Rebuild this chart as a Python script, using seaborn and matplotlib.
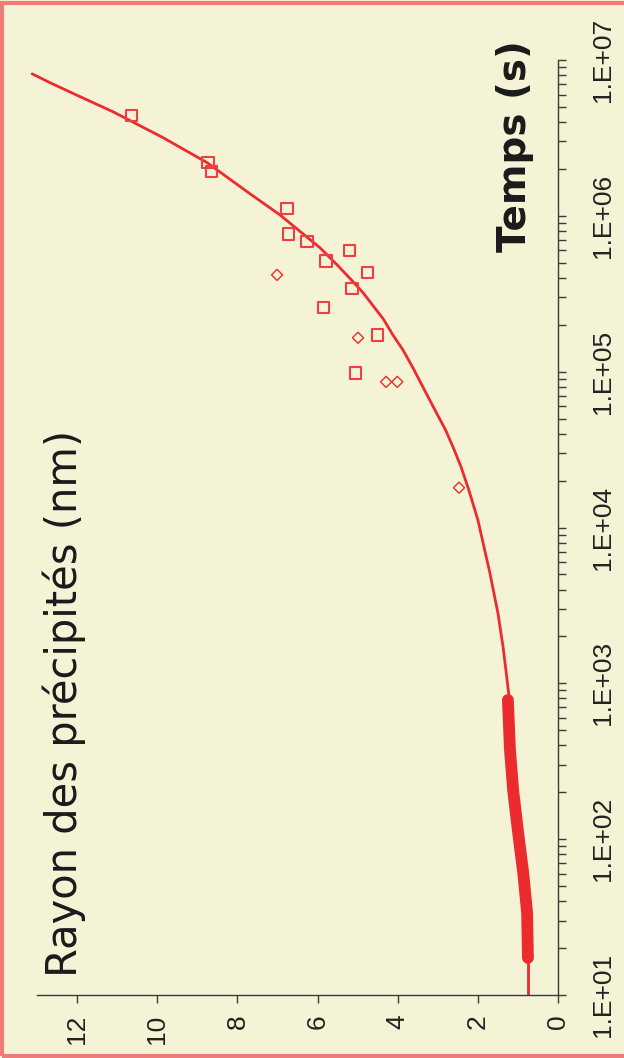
import numpy as np
import pandas as pd
import matplotlib
matplotlib.use("Agg")
import matplotlib.pyplot as plt
import seaborn as sns
from matplotlib.ticker import LogLocator, FuncFormatter, FixedLocator, NullFormatter
from matplotlib.patches import Rectangle

# ---------------- data ----------------
# model curve (radius nm, time s)
curve_radius = [13.12, 12.67, 11.92, 11.10, 9.85, 8.75, 7.76, 6.93, 5.94, 5.51, 5.11,
                4.86, 4.61, 4.36, 4.12, 3.87, 3.62, 3.32, 3.02, 2.81, 2.62, 2.42, 2.24,
                2.00, 1.70, 1.50, 1.37, 1.27, 1.22]
curve_time = [8.15e6, 7.14e6, 5.81e6, 4.65e6, 3.17e6, 2.19e6, 1.43e6, 1.01e6, 6.24e5,
              4.84e5, 3.77e5, 3.20e5, 2.64e5, 2.18e5, 1.72e5, 1.38e5, 1.06e5, 7.53e4,
              5.36e4, 4.25e4, 3.29e4, 2.45e4, 1.79e4, 1.12e4, 5.12e3, 2.83e3, 1.71e3,
              1.05e3, 8.2e2]
# dense early-time simulation points (thick part)
dense_radius = [1.25, 1.20, 1.12, 1.00, 0.87, 0.77, 0.75]
dense_time = [782, 379, 207, 113, 61.5, 33.6, 17.3]
# initial segment
start_radius = [0.75, 0.75]
start_time = [17.3, 10]

# experimental points: squares
sq_radius = [10.65, 8.73, 8.65, 6.76, 6.73, 6.26, 5.79, 5.21, 4.76, 5.14, 5.86, 4.51, 5.06]
sq_time = [4.39e6, 2.19e6, 1.92e6, 1.11e6, 7.66e5, 6.81e5, 5.14e5, 5.96e5, 4.31e5,
           3.40e5, 2.57e5, 1.72e5, 9.8e4]
# experimental points: diamonds
di_radius = [7.01, 4.99, 4.29, 4.01, 2.47]
di_time = [4.18e5, 1.65e5, 8.6e4, 8.6e4, 1.80e4]

radius_ticks = [0, 2, 4, 6, 8, 10, 12]
time_decades = [1e1, 1e2, 1e3, 1e4, 1e5, 1e6, 1e7]

ylabel_text = "Rayon des précipités (nm)"
xlabel_text = "Temps (s)"

# ---------------- style ----------------
BG = "#F5F3D6"
RED = "#EC2B2F"
BORDER = "#EF7C79"
AXC = "#3a3a3a"

sns.set_theme(style="white")
plt.rcParams["font.family"] = ["Liberation Sans", "DejaVu Sans"]

fig = plt.figure(figsize=(6.24, 10.58), dpi=100)
fig.patch.set_facecolor(BG)
W, H = 624, 1058
ax = fig.add_axes([37 / W, 63 / H, 521 / W, 935 / H])
ax.set_facecolor(BG)

df_curve = pd.DataFrame({"r": curve_radius, "t": curve_time})
df_dense = pd.DataFrame({"r": dense_radius, "t": dense_time})
df_start = pd.DataFrame({"r": start_radius, "t": start_time})
df_sq = pd.DataFrame({"r": sq_radius, "t": sq_time})
df_di = pd.DataFrame({"r": di_radius, "t": di_time})

ax.set_yscale("log")

sns.lineplot(data=df_curve, x="r", y="t", sort=False, estimator=None, color=RED,
             lw=2.0, ax=ax, clip_on=False)
sns.lineplot(data=df_dense, x="r", y="t", sort=False, estimator=None, color=RED,
             lw=8.5, ax=ax, solid_capstyle="round")
sns.lineplot(data=df_start, x="r", y="t", sort=False, estimator=None, color=RED,
             lw=2.0, ax=ax)
sns.scatterplot(data=df_sq, x="r", y="t", marker="s", s=66, facecolor="none",
                edgecolor="#EE4044", linewidth=1.5, ax=ax, zorder=4)
sns.scatterplot(data=df_di, x="r", y="t", marker="D", s=32, facecolor="none",
                edgecolor=RED, linewidth=1.0, ax=ax, zorder=4)

ax.set_xlim(13.0, 0)
ax.set_ylim(10, 1e7)
ax.set_xlabel("")
ax.set_ylabel("")

for side in ["left", "top"]:
    ax.spines[side].set_visible(False)
for side in ["right", "bottom"]:
    ax.spines[side].set_visible(True)
    ax.spines[side].set_color(AXC)
    ax.spines[side].set_linewidth(1.0)

ax.xaxis.set_major_locator(FixedLocator(radius_ticks))
ax.yaxis.set_major_locator(FixedLocator(time_decades))
ax.yaxis.set_minor_locator(LogLocator(base=10, subs=np.arange(2, 10)))
ax.yaxis.set_minor_formatter(NullFormatter())
ax.yaxis.set_major_formatter(FuncFormatter(lambda v, p: "1.E+%02d" % int(round(np.log10(v)))))
ax.yaxis.tick_right()

ax.tick_params(axis="x", which="both", bottom=True, top=False, direction="out",
               length=6, width=1.0, color=AXC, labelsize=19, labelcolor="#222222",
               pad=8, labelrotation=90)
ax.tick_params(axis="y", which="both", right=True, left=False, direction="out",
               length=6, width=1.0, color=AXC, labelsize=19, labelcolor="#222222",
               pad=18)
for lab in ax.get_yticklabels():
    lab.set_rotation(90)
    lab.set_va("center")
    lab.set_ha("left")

fig.text(64 / W, 1 - 703 / H, ylabel_text, rotation=90, ha="center", va="center",
         fontsize=30, color="#1a1a1a", family=["DejaVu Sans"])
fig.text(515 / W, 1 - 146 / H, xlabel_text, rotation=90, ha="center", va="center",
         fontsize=28, color="#1a1a1a", family=["DejaVu Sans"], fontweight="bold")

fig.patches.append(Rectangle((0.003, 0.002), 1.2, 0.995, transform=fig.transFigure,
                             fill=False, edgecolor=BORDER, linewidth=3.0, zorder=10))

fig.savefig("out.png", dpi=100, facecolor=BG)
